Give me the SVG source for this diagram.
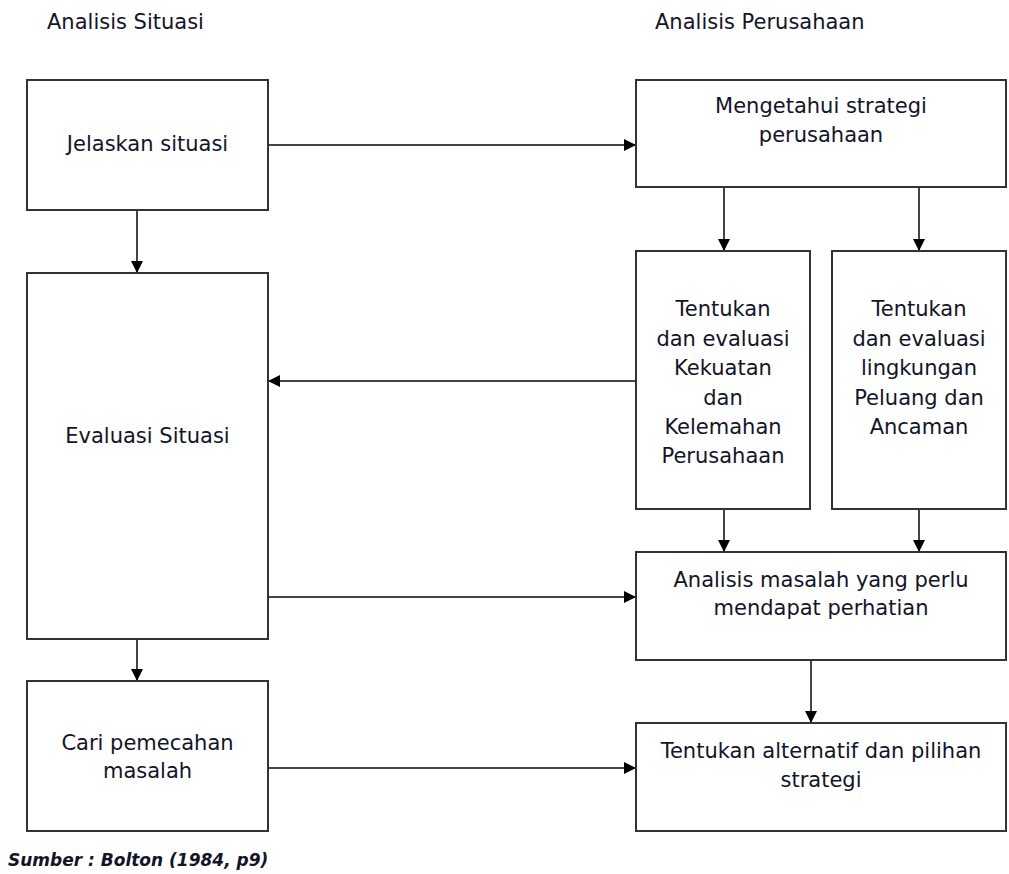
<svg xmlns="http://www.w3.org/2000/svg" width="1009" height="874" viewBox="0 0 1009 874">
<defs>
<marker id="ah" markerWidth="12" markerHeight="12" refX="11" refY="6" orient="auto" markerUnits="userSpaceOnUse">
<path d="M0,0 L12,6 L0,12 Z" fill="#000"/>
</marker>
<style>
.box{fill:#fff;stroke:#333;stroke-width:2}
.t{font-family:"DejaVu Sans",Verdana,sans-serif;font-size:21px;fill:#141428;text-anchor:middle}
.h{font-family:"DejaVu Sans",Verdana,sans-serif;font-size:21px;fill:#141428}
.c{stroke:#444;stroke-width:2;fill:none;marker-end:url(#ah)}
.src{font-family:"DejaVu Sans",Verdana,sans-serif;font-size:17px;font-weight:bold;font-style:italic;fill:#141428}
</style>
</defs>
<rect width="1009" height="874" fill="#fff"/>
<text class="h" x="47" y="29">Analisis Situasi</text>
<text class="h" x="655" y="29">Analisis Perusahaan</text>

<g id="connectors">
<line class="c" x1="137" y1="210" x2="137" y2="272"/>
<line class="c" x1="137" y1="639" x2="137" y2="680"/>
<line class="c" x1="268" y1="145" x2="635" y2="145"/>
<line class="c" x1="636" y1="381" x2="269" y2="381"/>
<line class="c" x1="268" y1="597" x2="635" y2="597"/>
<line class="c" x1="268" y1="768" x2="635" y2="768"/>
<line class="c" x1="724" y1="187" x2="724" y2="250"/>
<line class="c" x1="919" y1="187" x2="919" y2="250"/>
<line class="c" x1="724" y1="509" x2="724" y2="551"/>
<line class="c" x1="919" y1="509" x2="919" y2="551"/>
<line class="c" x1="811" y1="660" x2="811" y2="722"/>
</g>

<g id="jelaskan">
<rect class="box" x="27" y="80" width="241" height="130"/>
<text class="t" x="147.5" y="151">Jelaskan situasi</text>
</g>
<g id="evaluasi">
<rect class="box" x="27" y="273" width="241" height="366"/>
<text class="t" x="147.5" y="443">Evaluasi Situasi</text>
</g>
<g id="cari">
<rect class="box" x="27" y="681" width="241" height="150"/>
<text class="t" x="147.5" y="750">Cari pemecahan</text>
<text class="t" x="147.5" y="778">masalah</text>
</g>
<g id="mengetahui">
<rect class="box" x="636" y="80" width="370" height="107"/>
<text class="t" x="821" y="113">Mengetahui strategi</text>
<text class="t" x="821" y="142">perusahaan</text>
</g>
<g id="kekuatan">
<rect class="box" x="636" y="251" width="174" height="258"/>
<text class="t" x="723" y="316">Tentukan</text>
<text class="t" x="723" y="346">dan evaluasi</text>
<text class="t" x="723" y="375">Kekuatan</text>
<text class="t" x="723" y="405">dan</text>
<text class="t" x="723" y="434">Kelemahan</text>
<text class="t" x="723" y="463">Perusahaan</text>
</g>
<g id="peluang">
<rect class="box" x="832" y="251" width="174" height="258"/>
<text class="t" x="919" y="316">Tentukan</text>
<text class="t" x="919" y="346">dan evaluasi</text>
<text class="t" x="919" y="375">lingkungan</text>
<text class="t" x="919" y="405">Peluang dan</text>
<text class="t" x="919" y="434">Ancaman</text>
</g>
<g id="analisis">
<rect class="box" x="636" y="552" width="370" height="108"/>
<text class="t" x="821" y="587">Analisis masalah yang perlu</text>
<text class="t" x="821" y="615">mendapat perhatian</text>
</g>
<g id="alternatif">
<rect class="box" x="636" y="723" width="370" height="108"/>
<text class="t" x="821" y="758">Tentukan alternatif dan pilihan</text>
<text class="t" x="821" y="787">strategi</text>
</g>
<text class="src" x="8" y="866">Sumber : Bolton (1984, p9)</text>
</svg>
